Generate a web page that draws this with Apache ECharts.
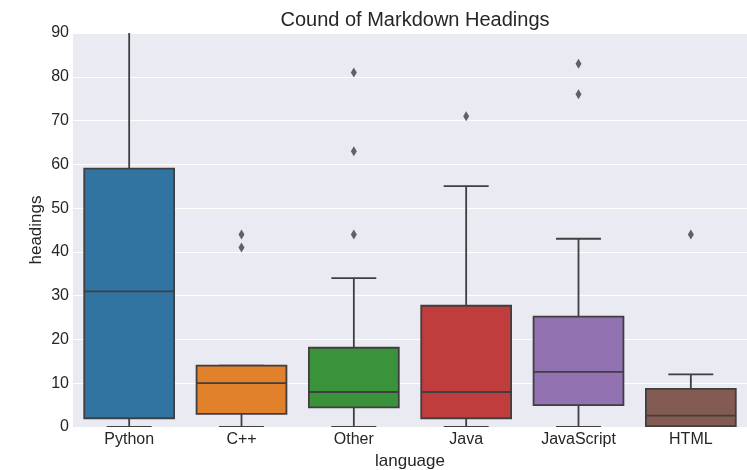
<!DOCTYPE html>
<html>
<head>
<meta charset="utf-8">
<script src="https://cdn.jsdelivr.net/npm/echarts@6/dist/echarts.min.js"></script>
<style>
html,body{margin:0;padding:0;background:#fff;}
#chart{width:747px;height:470px;}
</style>
</head>
<body>
<div id="chart"></div>
<script>
const categories = ['Python', 'C++', 'Other', 'Java', 'JavaScript', 'HTML'];
const lowerWhisker = [0, 0, 0, 0, 0, 0];
const q1 = [2, 3, 4.5, 2, 5, 0.2];
const median = [31, 10, 8, 8, 12.6, 2.6];
const q3 = [59, 14, 18.1, 27.7, 25.2, 8.7];
const upperWhisker = [120, 14, 34, 55, 43, 12];
const outlierCategory = [1, 1, 2, 2, 2, 3, 4, 4, 5];
const outlierValue = [41, 44, 44, 63, 81, 71, 76, 83, 44];
const yTicks = [0, 10, 20, 30, 40, 50, 60, 70, 80, 90];

const boxColors = ['#3274a1', '#e1812c', '#3a923a', '#c03d3e', '#9372b2', '#845b53'];
const edge = '#3f3f3f';
const font = '"Liberation Sans", Arial, sans-serif';

const boxData = categories.map((c, i) => [i, lowerWhisker[i], q1[i], median[i], q3[i], upperWhisker[i]]);
const outlierData = outlierCategory.map((c, i) => [c, outlierValue[i]]);

function renderBox(params, api) {
  const idx = api.value(0);
  const catW = api.size([1, 0])[0];
  const bw = catW * 0.8;
  const cw = bw * 0.5;
  const pLow = api.coord([idx, api.value(1)]);
  const pQ1 = api.coord([idx, api.value(2)]);
  const pMed = api.coord([idx, api.value(3)]);
  const pQ3 = api.coord([idx, api.value(4)]);
  const pHigh = api.coord([idx, api.value(5)]);
  const x = pQ1[0];
  const lineStyle = { stroke: edge, lineWidth: 1.8, fill: null };
  return {
    type: 'group',
    children: [
      { type: 'line', shape: { x1: x, y1: pQ3[1], x2: x, y2: pHigh[1] }, style: lineStyle },
      { type: 'line', shape: { x1: x, y1: pQ1[1], x2: x, y2: pLow[1] }, style: lineStyle },
      { type: 'line', shape: { x1: x - cw / 2, y1: pHigh[1], x2: x + cw / 2, y2: pHigh[1] }, style: lineStyle },
      { type: 'line', shape: { x1: x - cw / 2, y1: pLow[1], x2: x + cw / 2, y2: pLow[1] }, style: lineStyle },
      { type: 'rect', shape: { x: x - bw / 2, y: pQ3[1], width: bw, height: pQ1[1] - pQ3[1] },
        style: { fill: boxColors[idx], stroke: edge, lineWidth: 1.8 } },
      { type: 'line', shape: { x1: x - bw / 2, y1: pMed[1], x2: x + bw / 2, y2: pMed[1] }, style: lineStyle }
    ]
  };
}

const chart = echarts.init(document.getElementById('chart'), null, { renderer: 'canvas' });
chart.setOption({
  animation: false,
  backgroundColor: '#ffffff',
  title: {
    text: 'Cound of Markdown Headings',
    left: 410, top: 5, textAlign: 'center',
    textStyle: { fontFamily: font, fontSize: 20, fontWeight: 'normal', color: '#262626' }
  },
  grid: {
    left: 73, right: 0, top: 33, bottom: 43,
    outerBoundsMode: 'none',
    containLabel: false,
    show: true, backgroundColor: '#eaeaf2', borderWidth: 0
  },
  xAxis: {
    type: 'category',
    data: categories,
    boundaryGap: true,
    name: 'language',
    nameLocation: 'middle',
    nameGap: 26,
    nameMoveOverlap: false,
    nameTextStyle: { fontFamily: font, fontSize: 17, color: '#262626' },
    axisLine: { show: false },
    axisTick: { show: false },
    axisLabel: { fontFamily: font, fontSize: 16, color: '#262626', margin: 5 },
    splitLine: { show: false }
  },
  yAxis: {
    type: 'value',
    min: yTicks[0], max: yTicks[yTicks.length - 1], interval: 10,
    name: 'headings',
    nameLocation: 'middle',
    nameGap: 28,
    nameMoveOverlap: false,
    nameTextStyle: { fontFamily: font, fontSize: 17, color: '#262626' },
    axisLine: { show: false },
    axisTick: { show: false },
    axisLabel: { fontFamily: font, fontSize: 16, color: '#262626', margin: 4 },
    splitLine: { show: true, lineStyle: { color: '#ffffff', width: 1 } }
  },
  series: [
    {
      type: 'custom',
      renderItem: renderBox,
      data: boxData,
      clip: true,
      encode: { x: 0, y: [1, 2, 3, 4, 5] },
      z: 2
    },
    {
      type: 'scatter',
      data: outlierData,
      symbol: 'path://M5,0 L10,10 L5,20 L0,10 Z',
      symbolSize: [6, 10],
      itemStyle: { color: edge },
      z: 3
    }
  ]
});
</script>
</body>
</html>
